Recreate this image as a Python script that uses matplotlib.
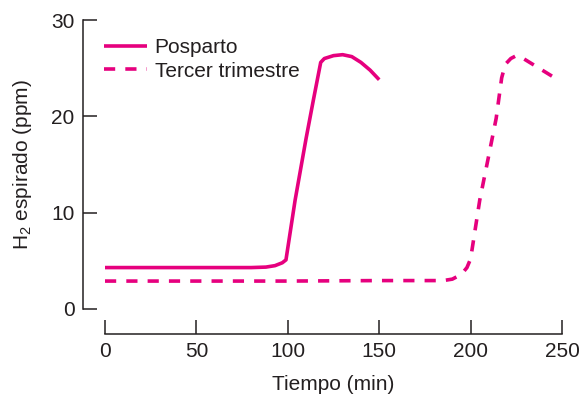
import matplotlib
matplotlib.use("Agg")
import matplotlib.pyplot as plt

plt.rcParams["font.family"] = ["Liberation Sans", "DejaVu Sans"]
plt.rcParams["mathtext.fontset"] = "custom"
plt.rcParams["mathtext.rm"] = "Liberation Sans"

# Breath hydrogen after lactulose load
posparto_t = [0, 20, 40, 60, 80, 88, 93, 97, 99, 104, 110, 114, 118, 120, 125, 130, 135, 140, 145, 150]
posparto_h2 = [4.3, 4.3, 4.3, 4.3, 4.3, 4.35, 4.5, 4.8, 5.1, 11.3, 17.7, 21.7, 25.6, 26.0, 26.3, 26.4, 26.2, 25.6, 24.8, 23.8]

tercer_t = [0, 50, 100, 150, 185, 190, 195, 198, 200, 205, 210, 214, 217, 219, 222, 225, 228, 246]
tercer_h2 = [2.9, 2.9, 2.9, 2.95, 2.95, 3.1, 3.6, 4.3, 5.2, 11.3, 16.0, 19.8, 24.0, 25.4, 26.0, 26.3, 26.1, 24.0]

x_ticks = [0, 50, 100, 150, 200, 250]
y_ticks = [0, 10, 20, 30]

color = "#E6007E"
text_color = "#231F20"
fs = 15

fig = plt.figure(figsize=(5.82, 3.97), dpi=100)
ax = fig.add_axes([105 / 582, 88 / 397, (562 - 105) / 582, (309 - 20) / 397])

ax.plot(posparto_t, posparto_h2, color=color, lw=2.6, solid_capstyle="butt",
        label="Posparto")
ax.plot(tercer_t, tercer_h2, color=color, lw=2.6, linestyle=(0, (3.1, 2.8)),
        dash_capstyle="butt", label="Tercer trimestre")

ax.set_xlim(0, 250)
ax.set_ylim(0, 30)
ax.set_xticks(x_ticks)
ax.set_yticks(y_ticks)

for side in ("top", "right"):
    ax.spines[side].set_visible(False)
ax.spines["left"].set_position(("outward", 16))
ax.spines["bottom"].set_position(("outward", 18))
for side in ("left", "bottom"):
    ax.spines[side].set_linewidth(1.1)
    ax.spines[side].set_color(text_color)

ax.tick_params(axis="both", direction="in", length=10, width=1.1,
               colors=text_color, labelsize=fs, pad=6)

ax.set_xlabel("Tiempo (min)", fontsize=fs, color=text_color, labelpad=10)
ax.set_ylabel(r"H$_2$ espirado (ppm)", fontsize=fs, color=text_color, labelpad=12)

leg = ax.legend(loc="upper left", bbox_to_anchor=(-0.02, 0.965), frameon=False,
                fontsize=fs, handlelength=2.07, handletextpad=0.35,
                labelspacing=0.2, borderaxespad=0)
for t in leg.get_texts():
    t.set_color(text_color)

fig.savefig("out.png", dpi=100)
